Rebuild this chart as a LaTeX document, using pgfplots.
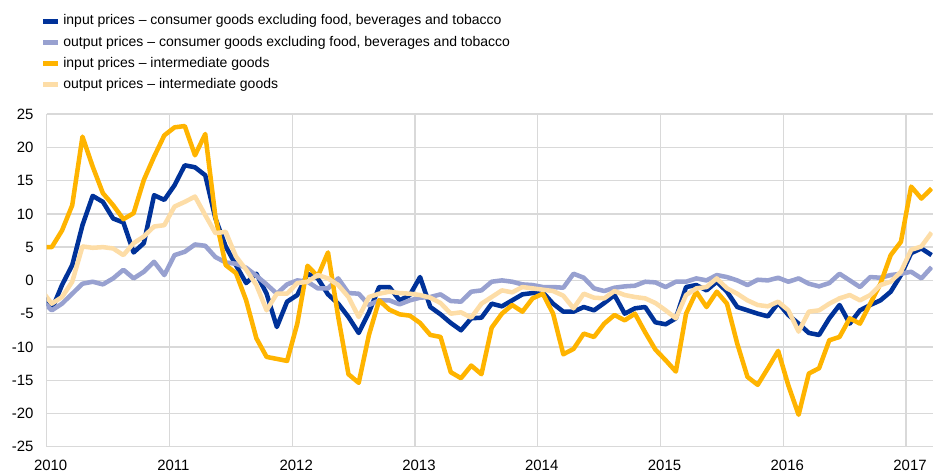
\documentclass[border=0pt]{standalone}
\usepackage{fontspec}
\setmainfont{Liberation Sans}
\usepackage{pgfplots}
\usepackage{pgfplotstable}
\pgfplotsset{compat=1.18}

\definecolor{ecbblue}{RGB}{0,50,153}
\definecolor{ecblblue}{RGB}{152,161,208}
\definecolor{ecbyellow}{RGB}{255,180,0}
\definecolor{ecblyellow}{RGB}{253,221,167}

% k = month index (0 = Jan 2010); ipc/opc = input/output consumer goods, ipi/opi = input/output intermediate
\pgfplotstableread{
k ipc opc ipi opi
-1 -2.0 -3.0 5.0 -1.5
0 -4.4 -4.5 5.0 -3.5
1 -0.7 -3.5 7.5 -2.5
2 2.3 -2.0 11.3 -0.2
3 8.3 -0.5 21.6 5.1
4 12.7 -0.2 17.1 4.9
5 11.8 -0.6 13.1 5.0
6 9.3 0.3 11.3 4.8
7 8.7 1.6 9.2 3.8
8 4.2 0.3 10.1 5.6
9 5.6 1.3 15.1 6.6
10 12.8 2.8 18.6 8.1
11 12.1 0.8 21.8 8.3
12 14.3 3.8 23.0 11.1
13 17.3 4.3 23.2 11.8
14 17.0 5.4 18.8 12.6
15 15.8 5.2 22.0 9.8
16 9.3 3.5 9.5 7.1
17 5.1 2.7 2.3 7.3
18 2.3 2.5 1.1 3.6
19 -0.4 1.9 -3.0 1.6
20 1.0 0.7 -8.7 -0.7
21 -2.0 -0.6 -11.5 -4.5
22 -7.0 -2.0 -11.8 -2.0
23 -3.2 -0.6 -12.1 -2.0
24 -2.2 0.0 -6.5 -0.4
25 1.0 -0.2 2.2 -0.2
26 0.3 -1.2 0.6 0.8
27 -2.1 -1.2 4.2 0.3
28 -3.5 0.3 -5.5 -0.7
29 -5.5 -1.9 -14.1 -2.5
30 -7.9 -2.0 -15.4 -5.5
31 -4.8 -3.7 -8.2 -2.5
32 -1.0 -3.0 -3.0 -2.0
33 -1.0 -3.0 -4.4 -1.7
34 -3.0 -3.6 -5.1 -1.9
35 -2.2 -3.0 -5.3 -2.0
36 0.5 -2.6 -6.4 -2.2
37 -4.0 -2.5 -8.2 -2.6
38 -5.1 -2.1 -8.5 -3.4
39 -6.4 -3.1 -13.8 -5.0
40 -7.5 -3.2 -14.7 -4.8
41 -5.7 -1.7 -12.8 -5.6
42 -5.6 -1.5 -14.1 -3.5
43 -3.5 -0.2 -7.1 -2.5
44 -3.9 0.0 -5.0 -1.5
45 -3.0 -0.2 -3.7 -1.8
46 -2.1 -0.6 -4.7 -1.0
47 -1.9 -0.7 -2.7 -1.2
48 -1.8 -1.0 -2.0 -1.4
49 -3.5 -1.0 -5.0 -1.6
50 -4.7 -1.1 -11.1 -2.3
51 -4.7 1.0 -10.3 -4.2
52 -4.0 0.4 -8.0 -2.0
53 -4.5 -1.2 -8.5 -2.6
54 -3.4 -1.6 -6.5 -2.7
55 -2.2 -1.1 -5.2 -1.6
56 -5.0 -0.9 -6.0 -2.2
57 -4.2 -0.8 -5.0 -2.5
58 -4.0 -0.2 -7.8 -2.7
59 -6.3 -0.3 -10.4 -3.4
60 -6.6 -1.0 -12.0 -4.5
61 -5.7 -0.2 -13.7 -5.7
62 -1.0 -0.2 -5.0 -2.2
63 -0.7 0.3 -1.7 -1.2
64 -1.5 0.0 -4.0 -1.0
65 -0.2 0.8 -1.7 0.3
66 -1.7 0.5 -3.5 -1.2
67 -4.0 0.0 -9.5 -2.0
68 -4.5 -0.7 -14.5 -3.0
69 -5.0 0.1 -15.7 -3.7
70 -5.4 0.0 -13.2 -3.9
71 -3.4 0.4 -10.6 -3.2
72 -5.2 -0.2 -15.8 -4.5
73 -6.5 0.3 -20.2 -7.7
74 -7.9 -0.5 -14.0 -4.7
75 -8.2 -0.9 -13.2 -4.5
76 -5.7 -0.4 -9.0 -3.5
77 -3.7 1.0 -8.5 -2.7
78 -6.5 0.0 -5.7 -2.2
79 -4.5 -1.0 -6.5 -3.0
80 -3.7 0.5 -3.5 -2.2
81 -3.0 0.4 -0.5 -0.7
82 -1.7 0.8 3.8 -0.2
83 0.8 1.0 5.8 1.3
84 4.1 1.3 14.1 4.6
85 4.8 0.3 12.3 5.1
86 3.8 2.0 13.8 7.2
}\prices

\begin{document}
\begin{tikzpicture}
\useasboundingbox (-35pt,-19.7pt) rectangle (666.25pt,335.05pt);
\begin{axis}[
    at={(0,0)}, anchor=south west,
    scale only axis,
    width=664.5pt, height=249.5pt,
    xmin=2010, xmax=2017.217,
    ymin=-25, ymax=25,
    xtick={2010,2011,...,2017},
    ytick={-25,-20,...,25},
    grid=major,
    major grid style={draw=black!15, line width=1pt},
    axis line style={draw=none},
    major tick length=0pt,
    no markers,
    tick label style={font=\fontsize{11.2}{13}\selectfont},
    /pgf/number format/assume math mode=true,
    /pgf/number format/1000 sep={},
    xticklabel style={yshift=-6.3pt, xshift=3pt},
    yticklabel style={xshift=-6.3pt},
    legend cell align=left,
    legend style={at={(0,1)}, anchor=north west, xshift=-4.5pt, yshift=75pt,
        draw=none, fill=none, inner sep=0pt,
        font=\fontsize{10.5}{12}\selectfont,
        row sep=5.4pt, column sep=2pt,
        nodes={inner sep=0pt, text height=8pt, text depth=2.5pt}},
    legend image code/.code={\draw[#1, line width=3.8pt, line cap=butt] (0pt,0pt) -- (11pt,0pt);},
]
\addplot[ecbblue, line width=3.4pt, line join=round] table[x expr={2010+(\thisrow{k}+0.5)/12}, y=ipc] {\prices};
\addplot[ecblblue, line width=3.4pt, line join=round] table[x expr={2010+(\thisrow{k}+0.5)/12}, y=opc] {\prices};
\addplot[ecbyellow, line width=3.4pt, line join=round] table[x expr={2010+(\thisrow{k}+0.5)/12}, y=ipi] {\prices};
\addplot[ecblyellow, line width=3.4pt, line join=round] table[x expr={2010+(\thisrow{k}+0.5)/12}, y=opi] {\prices};
\legend{{input prices -- consumer goods excluding food, beverages and tobacco},
        {output prices -- consumer goods excluding food, beverages and tobacco},
        {input prices -- intermediate goods},
        {output prices -- intermediate goods}}
\end{axis}
\end{tikzpicture}
\end{document}
